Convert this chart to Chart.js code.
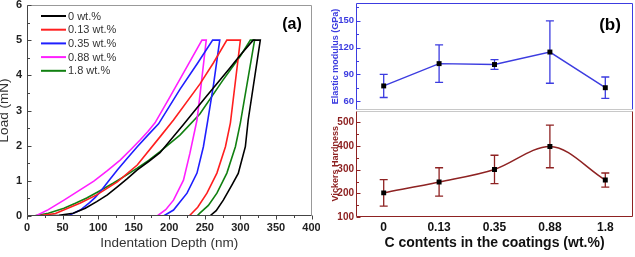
<!DOCTYPE html>
<html>
<head>
<meta charset="utf-8">
<script src="https://cdn.jsdelivr.net/npm/chart.js@4.4.0/dist/chart.umd.min.js"></script>
<style>
  html, body { margin: 0; padding: 0; background: #fff; }
  #wrap { position: relative; width: 635px; height: 257px; overflow: hidden; }
  canvas { position: absolute; }
</style>
</head>
<body>
<div id="wrap">
  <canvas id="chartA" width="320" height="257" style="left:0;top:0;width:320px;height:257px"></canvas>
  <canvas id="chartE" width="315" height="112" style="left:320px;top:0;width:315px;height:112px"></canvas>
  <canvas id="chartH" width="315" height="147" style="left:320px;top:110px;width:315px;height:147px"></canvas>
</div>
<script>
// ---- panel (a): load vs indentation depth ----
const seriesNames = ["0 wt.%", "0.13 wt.%", "0.35 wt.%", "0.88 wt.%", "1.8 wt.%"];
const seriesColors = ["#000000", "#ff1f1f", "#1f1fff", "#ff1fff", "#118011"];

const depth0 = [23, 45, 65, 82, 98, 113, 127, 141, 155, 171, 187, 220, 250, 285, 300, 318, 328, 311, 307, 297, 288, 276, 266, 257];
const load0  = [0, 0.02, 0.08, 0.22, 0.41, 0.6, 0.83, 1.06, 1.31, 1.55, 1.8, 2.6, 3.35, 4.2, 4.58, 5, 5, 2.73, 1.97, 1.21, 0.88, 0.45, 0.15, 0];

const depth1 = [14, 40, 75, 98, 127, 155, 187, 206, 243, 262, 281, 300, 286, 279, 267, 253, 240, 228];
const load1  = [0, 0.07, 0.37, 0.6, 0.97, 1.45, 2.25, 2.73, 3.75, 4.35, 5, 5, 2.65, 1.97, 1.22, 0.65, 0.25, 0];

const depth2 = [25, 45, 60, 75, 88, 96, 103, 115, 127, 141, 155, 170, 185, 215, 240, 261, 271, 262, 254, 248, 239, 225, 206, 192];
const load2  = [0, 0, 0.03, 0.17, 0.38, 0.53, 0.69, 1.0, 1.31, 1.64, 1.97, 2.3, 2.62, 3.6, 4.35, 5, 5, 3.7, 2.7, 1.97, 1.22, 0.65, 0.17, 0];

const depth3 = [12, 30, 52, 73, 94, 113, 131, 145, 159, 170, 180, 200, 225, 246, 252, 243, 239, 229, 220, 206, 195, 183];
const load3  = [0, 0.18, 0.45, 0.72, 0.99, 1.29, 1.59, 1.87, 2.16, 2.4, 2.65, 3.35, 4.25, 5, 5, 3.4, 2.73, 1.78, 1.02, 0.45, 0.18, 0];

const depth4 = [9, 30, 52, 68, 84, 102, 121, 138, 155, 171, 187, 215, 243, 275, 300, 314, 320, 300, 293, 281, 267, 255, 243, 239];
const load4  = [0, 0.08, 0.22, 0.36, 0.51, 0.71, 0.93, 1.14, 1.36, 1.58, 1.83, 2.3, 2.9, 3.85, 4.55, 5, 5, 2.65, 1.97, 1.22, 0.65, 0.3, 0.08, 0];

const depths = [depth0, depth1, depth2, depth3, depth4];
const loads = [load0, load1, load2, load3, load4];

// ---- panel (b): modulus and hardness vs C content ----
const carbonLabels = ["0", "0.13", "0.35", "0.88", "1.8"];
const modulus = [77, 102, 101, 115, 75];
const modulusErr = [13, 21, 5.5, 35, 12];
const hardness = [202, 248, 301, 398, 256];
const hardnessErr = [56, 60, 60, 90, 30];
const modulusTicks = [60, 90, 120, 150];
const hardnessTicks = [100, 200, 300, 400, 500];

const FONT = "'Liberation Sans', Arial, sans-serif";
const BLUE = "#3c3ce0";
const RED = "#8e2222";

// frame + inward/outward ticks drawn from the scales
const framePlugin = {
  id: "frame",
  afterDraw(chart, args, o) {
    const { ctx, chartArea: a } = chart;
    ctx.save();
    ctx.lineWidth = 1;
    const seg = (color, x1, y1, x2, y2) => {
      if (!color) return;
      ctx.strokeStyle = color;
      ctx.beginPath();
      ctx.moveTo(x1, y1);
      ctx.lineTo(x2, y2);
      ctx.stroke();
    };
    const L = Math.round(a.left) + 0.5, R = Math.round(a.right) - 0.5;
    const T = Math.round(a.top) + 0.5, B = Math.round(a.bottom) - 0.5;
    seg(o.top, L, T, R, T);
    seg(o.right, R, T, R, B);
    seg(o.bottom, L, B, R, B);
    seg(o.left, L, T, L, B);

    const ys = chart.scales.y;
    (o.yMajor || []).forEach(v => {
      const y = Math.round(ys.getPixelForValue(v)) + 0.5;
      seg(o.tickColor, L, y, L + 4, y);
    });
    (o.yMinor || []).forEach(v => {
      const y = Math.round(ys.getPixelForValue(v)) + 0.5;
      seg(o.tickColor, L, y, L + 2.5, y);
    });
    const xs = chart.scales.x;
    (o.xMajor || []).forEach(v => {
      const x = Math.round(xs.getPixelForValue(v)) + 0.5;
      seg(o.tickColor, x, B, x, B + 4);
    });
    (o.xMinor || []).forEach(v => {
      const x = Math.round(xs.getPixelForValue(v)) + 0.5;
      seg(o.tickColor, x, B, x, B + 2.5);
    });

    if (o.tag) {
      ctx.fillStyle = "#000";
      ctx.font = "bold " + o.tag.size + "px " + FONT;
      ctx.textAlign = "center";
      ctx.textBaseline = "middle";
      ctx.fillText(o.tag.text, o.tag.x, o.tag.y);
    }
    ctx.restore();
  }
};

// legend of panel (a), inside the plot
const legendA = {
  id: "legendA",
  afterDraw(chart) {
    const { ctx } = chart;
    ctx.save();
    ctx.font = "11px " + FONT;
    ctx.textBaseline = "middle";
    chart.data.datasets.forEach((ds, i) => {
      const y = 16 + i * 13.7;
      ctx.strokeStyle = ds.borderColor;
      ctx.lineWidth = 2;
      ctx.beginPath();
      ctx.moveTo(41, y);
      ctx.lineTo(66, y);
      ctx.stroke();
      ctx.fillStyle = "#333";
      ctx.fillText(ds.label, 68, y + 0.5);
    });
    ctx.restore();
  }
};

// vertical error bars with caps
const errorBars = {
  id: "errorBars",
  beforeDatasetsDraw(chart, args, o) {
    const { ctx, scales } = chart;
    const vals = chart.data.datasets[0].data;
    ctx.save();
    ctx.strokeStyle = o.color;
    ctx.lineWidth = 1.3;
    vals.forEach((v, i) => {
      const x = scales.x.getPixelForValue(i);
      const y1 = scales.y.getPixelForValue(v + o.errors[i]);
      const y2 = scales.y.getPixelForValue(v - o.errors[i]);
      ctx.beginPath();
      ctx.moveTo(x, y1); ctx.lineTo(x, y2);
      ctx.moveTo(x - 4, y1); ctx.lineTo(x + 4, y1);
      ctx.moveTo(x - 4, y2); ctx.lineTo(x + 4, y2);
      ctx.stroke();
    });
    ctx.restore();
  }
};

const range = (a, b, s) => { const r = []; for (let v = a; v <= b + 1e-9; v += s) r.push(v); return r; };
const noGrid = { display: false, drawTicks: false };
// fixed axis size, no extra room for end labels
const fixW = w => s => { s.width = w; s.paddingTop = 0; s.paddingBottom = 0; s.paddingLeft = 0; s.paddingRight = 0; };
const fixH = h => s => { s.height = h; s.paddingTop = 0; s.paddingBottom = 0; s.paddingLeft = 0; s.paddingRight = 0; };

new Chart(document.getElementById("chartA"), {
  type: "scatter",
  data: {
    datasets: seriesNames.map((name, k) => ({
      label: name,
      data: depths[k].map((d, i) => ({ x: d, y: loads[k][i] })),
      showLine: true,
      borderColor: seriesColors[k],
      borderWidth: 1.6,
      pointRadius: 0,
      tension: 0,
      fill: false,
    })),
  },
  options: {
    responsive: false,
    animation: false,
    layout: { autoPadding: false, padding: { top: 5, right: 8.5, left: 0, bottom: 0 } },
    plugins: {
      legend: { display: false },
      tooltip: { enabled: false },
      frame: {
        top: "#999", right: "#999", bottom: "#444", left: "#444", tickColor: "#444",
        yMajor: range(0, 6, 1), yMinor: range(0.5, 5.5, 1),
        xMajor: range(0, 400, 50), xMinor: range(25, 375, 50),
        tag: { text: "(a)", x: 292, y: 25, size: 16 },
      },
    },
    scales: {
      x: {
        type: "linear", min: 0, max: 400,
        afterFit: fixH(41),
        grid: noGrid,
        border: { display: false },
        ticks: { stepSize: 50, padding: 5, color: "#222", font: { family: FONT, size: 11, weight: "bold" } },
        title: { display: true, text: "Indentation Depth (nm)", color: "#333", padding: { top: 0, bottom: 6 }, font: { family: FONT, size: 13.5 } },
      },
      y: {
        min: 0, max: 6,
        afterFit: fixW(27),
        grid: noGrid,
        border: { display: false },
        ticks: { stepSize: 1, padding: 5, color: "#222", font: { family: FONT, size: 11, weight: "bold" } },
        title: { display: true, text: "Load (mN)", color: "#333", padding: { top: -4, bottom: 0 }, font: { family: FONT, size: 13.5 } },
      },
    },
  },
  plugins: [framePlugin, legendA],
});

new Chart(document.getElementById("chartE"), {
  type: "line",
  data: {
    labels: carbonLabels,
    datasets: [{
      data: modulus,
      borderColor: BLUE,
      borderWidth: 1.4,
      tension: 0,
      pointStyle: "rect",
      pointRadius: 3.5,
      pointBackgroundColor: "#000",
      pointBorderColor: "#000",
      pointBorderWidth: 0,
    }],
  },
  options: {
    responsive: false,
    animation: false,
    layout: { autoPadding: false, padding: { top: 3, right: 2, left: 0, bottom: 2 } },
    plugins: {
      legend: { display: false },
      tooltip: { enabled: false },
      errorBars: { errors: modulusErr, color: BLUE },
      frame: {
        top: BLUE, right: BLUE, bottom: "#c8c8c8", left: BLUE, tickColor: BLUE,
        yMajor: modulusTicks, yMinor: [75, 105, 135, 165],
        tag: { text: "(b)", x: 290, y: 25, size: 17 },
      },
    },
    scales: {
      x: { type: "category", offset: true, display: false },
      y: {
        min: 50, max: 170,
        afterFit: fixW(36),
        afterBuildTicks(s) { s.ticks = modulusTicks.map(v => ({ value: v })); },
        grid: noGrid,
        border: { display: false },
        ticks: { padding: 2, color: BLUE, font: { family: FONT, size: 9.5, weight: "bold" } },
        title: { display: true, text: "Elastic modulus (GPa)", color: BLUE, padding: { top: 10, bottom: 0 }, font: { family: FONT, size: 9, weight: "bold" } },
      },
    },
  },
  plugins: [errorBars, framePlugin],
});

new Chart(document.getElementById("chartH"), {
  type: "line",
  data: {
    labels: carbonLabels,
    datasets: [{
      data: hardness,
      borderColor: RED,
      borderWidth: 1.5,
      cubicInterpolationMode: "monotone",
      pointStyle: "rect",
      pointRadius: 3.5,
      pointBackgroundColor: "#000",
      pointBorderColor: "#000",
      pointBorderWidth: 0,
    }],
  },
  options: {
    responsive: false,
    animation: false,
    layout: { autoPadding: false, padding: { top: 0.5, right: 2, left: 0, bottom: 0 } },
    plugins: {
      legend: { display: false },
      tooltip: { enabled: false },
      errorBars: { errors: hardnessErr, color: RED },
      frame: {
        top: "#c8c8c8", right: RED, bottom: RED, left: RED, tickColor: RED,
        yMajor: hardnessTicks, yMinor: [150, 250, 350, 450],
      },
    },
    scales: {
      x: {
        type: "category", offset: true,
        afterFit: fixH(40),
        grid: noGrid,
        border: { display: false },
        ticks: { padding: 3, color: "#111", font: { family: FONT, size: 12, weight: "bold" } },
        title: { display: true, text: "C contents in the coatings (wt.%)", color: "#111", padding: { top: 0, bottom: 5.5 }, font: { family: FONT, size: 14, weight: "bold" } },
      },
      y: {
        min: 100, max: 550,
        afterFit: fixW(36),
        afterBuildTicks(s) { s.ticks = hardnessTicks.map(v => ({ value: v })); },
        grid: noGrid,
        border: { display: false },
        ticks: { padding: 2, color: RED, font: { family: FONT, size: 10, weight: "bold" } },
        title: { display: true, text: "Vickers Hardness", color: RED, padding: { top: 10, bottom: 0 }, font: { family: FONT, size: 9, weight: "bold" } },
      },
    },
  },
  plugins: [errorBars, framePlugin],
});
</script>
</body>
</html>
